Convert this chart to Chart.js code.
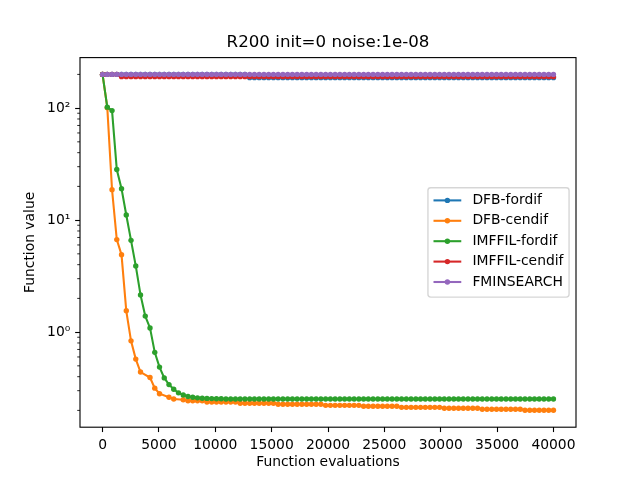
<!DOCTYPE html>
<html><head><meta charset="utf-8">
<script src="https://cdn.jsdelivr.net/npm/chart.js@4"></script>
<style>html,body{margin:0;padding:0;background:#fff}canvas{display:block}</style>
</head><body>
<canvas id="c" width="640" height="480" style="width:640px;height:480px"></canvas>
<script>
const titleText = 'R200 init=0 noise:1e-08';
const xAxisLabel = 'Function evaluations';
const yAxisLabel = 'Function value';
const seriesNames = ['DFB-fordif', 'DFB-cendif', 'IMFFIL-fordif', 'IMFFIL-cendif', 'FMINSEARCH'];
const seriesColors = ['#1f77b4', '#ff7f0e', '#2ca02c', '#d62728', '#9467bd'];
const xTicks = [0, 5000, 10000, 15000, 20000, 25000, 30000, 35000, 40000];
const yTicks = [1, 10, 100];
const yTickLabels = ['10\u2070', '10\u00b9', '10\u00b2'];
const yMinorTicks = [0.2, 0.3, 0.4, 0.5, 0.6, 0.7, 0.8, 0.9, 2, 3, 4, 5, 6, 7, 8, 9, 20, 30, 40, 50, 60, 70, 80, 90, 200];

const evaluations = [
  0, 421, 842, 1263, 1684, 2105, 2526, 2947, 3368, 3789,
  4211, 4632, 5053, 5474, 5895, 6316, 6737, 7158, 7579, 8000,
  8421, 8842, 9263, 9684, 10105, 10526, 10947, 11368, 11789, 12211,
  12632, 13053, 13474, 13895, 14316, 14737, 15158, 15579, 16000, 16421,
  16842, 17263, 17684, 18105, 18526, 18947, 19368, 19789, 20211, 20632,
  21053, 21474, 21895, 22316, 22737, 23158, 23579, 24000, 24421, 24842,
  25263, 25684, 26105, 26526, 26947, 27368, 27789, 28211, 28632, 29053,
  29474, 29895, 30316, 30737, 31158, 31579, 32000, 32421, 32842, 33263,
  33684, 34105, 34526, 34947, 35368, 35789, 36211, 36632, 37053, 37474,
  37895, 38316, 38737, 39158, 39579, 40000
];

const dfbFordif = [
  200, 200, 200, 200, 200, 200, 200, 200, 200, 200,
  200, 200, 200, 200, 200, 200, 200, 200, 200, 200,
  200, 200, 200, 200, 200, 200, 200, 200, 200, 200,
  200, 187, 187, 187, 187, 187, 187, 187, 187, 187,
  187, 187, 187, 187, 187, 187, 187, 187, 187, 187,
  187, 187, 187, 187, 187, 187, 187, 187, 187, 187,
  187, 187, 187, 187, 187, 187, 187, 187, 187, 187,
  187, 187, 187, 187, 187, 187, 187, 187, 187, 187,
  187, 187, 187, 187, 187, 187, 187, 187, 187, 187,
  187, 187, 187, 187, 187, 187
];

const dfbCendif = [
  200, 101, 18.7, 6.7, 4.9, 1.55, 0.836, 0.574, 0.44, null,
  0.393, 0.316, 0.282, null, 0.262, 0.253, null, 0.249, 0.244, 0.244,
  0.244, 0.244, 0.238, 0.238, 0.238, 0.238, 0.238, 0.238, 0.238, 0.232,
  0.232, 0.232, 0.232, 0.232, 0.232, 0.232, 0.232, 0.227, 0.227, 0.227,
  0.227, 0.227, 0.227, 0.227, 0.227, 0.227, 0.227, 0.222, 0.222, 0.222,
  0.222, 0.222, 0.222, 0.222, 0.222, 0.218, 0.218, 0.218, 0.218, 0.218,
  0.218, 0.218, 0.218, 0.213, 0.213, 0.213, 0.213, 0.213, 0.213, 0.213,
  0.213, 0.213, 0.209, 0.209, 0.209, 0.209, 0.209, 0.209, 0.209, 0.209,
  0.205, 0.205, 0.205, 0.205, 0.205, 0.205, 0.205, 0.205, 0.205, 0.2005,
  0.2005, 0.2005, 0.2005, 0.2005, 0.2005, 0.2005
];

const imffilFordif = [
  200, 102, 95, 28.3, 19.1, 11.1, 6.6, 3.9, 2.15, 1.39,
  1.09, 0.66, 0.487, 0.39, 0.34, 0.309, 0.287, 0.275, 0.266, 0.262,
  0.259, 0.257, 0.256, 0.255, 0.254, 0.254, 0.253, 0.253, 0.253, 0.253,
  0.253, 0.253, 0.253, 0.253, 0.253, 0.253, 0.253, 0.253, 0.253, 0.253,
  0.253, 0.253, 0.253, 0.253, 0.253, 0.253, 0.253, 0.253, 0.253, 0.253,
  0.253, 0.253, 0.253, 0.253, 0.253, 0.253, 0.253, 0.253, 0.253, 0.253,
  0.253, 0.253, 0.253, 0.253, 0.253, 0.253, 0.253, 0.253, 0.253, 0.253,
  0.253, 0.253, 0.253, 0.253, 0.253, 0.253, 0.253, 0.253, 0.253, 0.253,
  0.253, 0.253, 0.253, 0.253, 0.253, 0.253, 0.253, 0.253, 0.253, 0.253,
  0.253, 0.253, 0.253, 0.253, 0.253, 0.253
];

const imffilCendif = [
  200, 200, 200, 200, 191, 191, 191, 191, 191, 191,
  191, 191, 191, 191, 191, 191, 191, 191, 191, 191,
  191, 191, 191, 191, 191, 191, 191, 191, 191, 191,
  191, 191, 191, 191, 191, 191, 191, 191, 191, 191,
  191, 191, 191, 191, 191, 191, 191, 191, 191, 191,
  191, 191, 191, 191, 191, 191, 191, 191, 191, 191,
  191, 191, 191, 191, 191, 191, 191, 191, 191, 191,
  191, 191, 191, 191, 191, 191, 191, 191, 191, 191,
  191, 191, 191, 191, 191, 191, 191, 191, 191, 191,
  191, 191, 191, 191, 191, 191
];

const fminsearch = [
  200, 200, 200, 200, 200, 200, 200, 200, 200, 200,
  200, 200, 200, 200, 200, 200, 200, 200, 200, 200,
  200, 200, 200, 200, 200, 200, 200, 200, 200, 200,
  200, 200, 200, 200, 200, 200, 200, 200, 200, 200,
  200, 200, 200, 200, 200, 200, 200, 200, 200, 200,
  200, 200, 200, 200, 200, 200, 200, 200, 200, 200,
  200, 200, 200, 200, 200, 200, 200, 200, 200, 200,
  200, 200, 200, 200, 200, 200, 200, 200, 200, 200,
  200, 200, 200, 200, 200, 200, 200, 200, 200, 200,
  200, 200, 200, 200, 200, 200
];

const seriesValues = [dfbFordif, dfbCendif, imffilFordif, imffilCendif, fminsearch];

const FONT = '"DejaVu Sans", sans-serif';
const PX = 100 / 72;
const FS = 10 * PX;

function toPoints(vals) {
  return evaluations.map((e, i) => ({ x: e, y: vals[i] }));
}

const datasets = seriesNames.map((name, i) => ({
  label: name,
  data: toPoints(seriesValues[i]),
  borderColor: seriesColors[i],
  backgroundColor: seriesColors[i],
  borderWidth: 1.5 * PX,
  pointRadius: 2.7,
  pointHoverRadius: 2.7,
  pointBorderWidth: 0,
  tension: 0,
  spanGaps: true,
  fill: false,
  order: seriesNames.length - i
}));

const tickGrid = {
  display: true, drawOnChartArea: false, drawTicks: true,
  tickLength: 3.5 * PX, tickWidth: 0.8 * PX, tickColor: '#000'
};

const extras = {
  id: 'extras',
  afterDraw(chart) {
    const { ctx, chartArea: a, scales: { y } } = chart;
    ctx.save();
    ctx.strokeStyle = '#000';
    ctx.lineWidth = 0.6 * PX;
    yMinorTicks.forEach(v => {
      const py = y.getPixelForValue(v);
      ctx.beginPath();
      ctx.moveTo(a.left, py);
      ctx.lineTo(a.left - 2 * PX, py);
      ctx.stroke();
    });
    ctx.lineWidth = 0.8 * PX;
    ctx.strokeRect(a.left, a.top, a.right - a.left, a.bottom - a.top);

    ctx.font = FS + 'px ' + FONT;
    const items = chart.data.datasets;
    let textW = 0;
    items.forEach(d => { textW = Math.max(textW, ctx.measureText(d.label).width); });
    const borderPad = 0.4 * FS, handleLen = 2 * FS, handlePad = 0.8 * FS, axPad = 0.5 * FS;
    const rowH = 20.4;
    const boxW = 2 * borderPad + handleLen + handlePad + textW;
    const boxH = 109.4;
    const right = a.right - axPad;
    const left = right - boxW;
    const top = (a.top + a.bottom) / 2 - boxH / 2;
    const r = 0.2 * FS;
    ctx.beginPath();
    ctx.moveTo(left + r, top);
    ctx.lineTo(right - r, top);
    ctx.arcTo(right, top, right, top + r, r);
    ctx.lineTo(right, top + boxH - r);
    ctx.arcTo(right, top + boxH, right - r, top + boxH, r);
    ctx.lineTo(left + r, top + boxH);
    ctx.arcTo(left, top + boxH, left, top + boxH - r, r);
    ctx.lineTo(left, top + r);
    ctx.arcTo(left, top, left + r, top, r);
    ctx.closePath();
    ctx.fillStyle = 'rgba(255,255,255,0.8)';
    ctx.fill();
    ctx.strokeStyle = 'rgba(204,204,204,0.8)';
    ctx.lineWidth = 1 * PX;
    ctx.stroke();
    items.forEach((d, i) => {
      const cy = top + 12.7 + i * rowH;
      const x0 = left + borderPad;
      ctx.strokeStyle = d.borderColor;
      ctx.lineWidth = 1.5 * PX;
      ctx.beginPath();
      ctx.moveTo(x0, cy);
      ctx.lineTo(x0 + handleLen, cy);
      ctx.stroke();
      ctx.fillStyle = d.borderColor;
      ctx.beginPath();
      ctx.arc(x0 + handleLen / 2, cy, 2.7, 0, Math.PI * 2);
      ctx.fill();
      ctx.fillStyle = '#000';
      ctx.textBaseline = 'middle';
      ctx.textAlign = 'left';
      ctx.fillText(d.label, x0 + handleLen + handlePad, cy);
    });
    ctx.restore();
  }
};

new Chart(document.getElementById('c'), {
  type: 'line',
  data: { datasets },
  options: {
    responsive: false,
    animation: false,
    devicePixelRatio: 1,
    events: [],
    layout: { padding: { left: 0, right: 64, top: 0, bottom: 0 } },
    plugins: {
      legend: { display: false },
      tooltip: { enabled: false },
      title: {
        display: true, text: titleText, color: '#000', fullSize: false,
        font: { family: FONT, size: 12 * PX, weight: 'normal' },
        padding: { top: 33, bottom: 4.6 }
      }
    },
    scales: {
      x: {
        type: 'linear', min: -2000, max: 42000,
        afterBuildTicks: s => { s.ticks = xTicks.map(v => ({ value: v })); },
        afterFit: s => { s.height = 52.8; },
        grid: tickGrid,
        border: { display: false },
        ticks: {
          color: '#000', font: { family: FONT, size: FS }, padding: 3.5 * PX,
          maxRotation: 0, autoSkip: false, callback: v => String(v)
        },
        title: {
          display: true, text: xAxisLabel, color: '#000',
          font: { family: FONT, size: FS }, padding: { top: 0, bottom: 9.7 }
        }
      },
      y: {
        type: 'logarithmic', min: 0.1416, max: 282.5,
        afterBuildTicks: s => { s.ticks = yTicks.map(v => ({ value: v })); },
        afterFit: s => { s.width = 80; },
        grid: tickGrid,
        border: { display: false },
        ticks: {
          color: '#000', font: { family: FONT, size: FS }, padding: 3.5 * PX,
          autoSkip: false,
          callback: v => { const k = yTicks.indexOf(v); return k >= 0 ? yTickLabels[k] : ''; }
        },
        title: {
          display: true, text: yAxisLabel, color: '#000',
          font: { family: FONT, size: FS }, padding: { top: 22.4, bottom: 0 }
        }
      }
    }
  },
  plugins: [extras]
});
</script>
</body></html>
